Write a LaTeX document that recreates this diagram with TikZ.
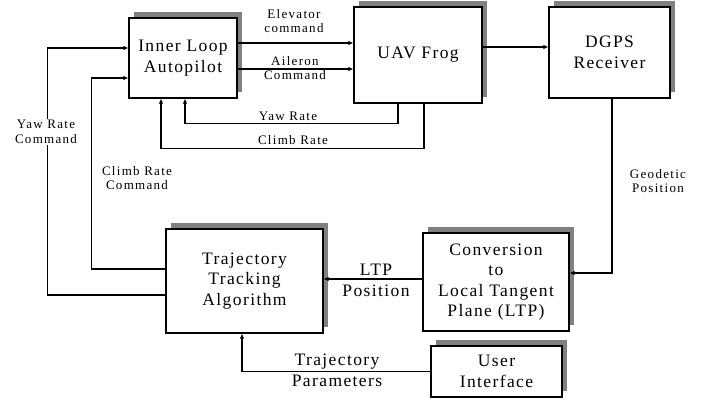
\documentclass[tikz,border=0pt]{standalone}
\usepackage{fontspec}
\setmainfont{Liberation Serif}
\newfontfamily\labfont[LetterSpace=10]{Liberation Serif}
\newfontfamily\boxfont[LetterSpace=8]{Liberation Serif}
\usetikzlibrary{shadows,arrows.meta}
\begin{document}
\begin{tikzpicture}[x=1pt,y=-1pt,
  blk/.style={draw=black,line width=1.1pt,fill=white,rectangle,align=center,
    inner sep=0pt,font=\boxfont\fontsize{17.5}{20.5}\selectfont,
    drop shadow={shadow xshift=5pt,shadow yshift=6pt,fill=gray,opacity=1}},
  conn/.style={line width=1.1pt},
  arr/.style={conn,-{Latex[length=5pt,width=4.5pt]}},
  small/.style={align=center,inner sep=1pt,font=\labfont\fontsize{13}{14.5}\selectfont},
  big/.style={align=center,inner sep=1pt,font=\boxfont\fontsize{17.5}{21}\selectfont}]
\useasboundingbox (0,0) rectangle (702,399);
\fill[white] (0,0) rectangle (702,399);
% blocks
\node[blk,minimum width=108pt,minimum height=80pt] (inner) at (183,58) {Inner Loop\\Autopilot};
\node[blk,minimum width=128pt,minimum height=96pt] (uav) at (418,55) {UAV Frog};
\node[blk,minimum width=121pt,minimum height=91pt] (dgps) at (609.5,52.5) {DGPS\\Receiver};
\node[blk,minimum width=157pt,minimum height=104pt] (traj) at (244.5,281) {Trajectory\\Tracking\\Algorithm};
\node[blk,minimum width=146pt,minimum height=98pt] (conv) at (496,282) {Conversion\\to\\Local Tangent\\Plane (LTP)};
\node[blk,minimum width=131pt,minimum height=51pt] (ui) at (496.5,371.5) {User\\Interface};
% connector end points
\coordinate (el) at ([yshift=15pt]inner.east);
\coordinate (ai) at ([yshift=-11pt]inner.east);
\coordinate (ud) at ([yshift=8pt]uav.east);
\coordinate (ya) at ([xshift=-20pt]uav.south);
\coordinate (yb) at ([xshift=2pt]inner.south);
\coordinate (ca) at ([xshift=6pt]uav.south);
\coordinate (cb) at ([xshift=-22pt]inner.south);
\coordinate (t1) at ([yshift=-14pt]traj.west);
\coordinate (i1) at ([yshift=10pt]inner.west);
\coordinate (t2) at ([yshift=12pt]traj.west);
\coordinate (i2) at ([yshift=-20pt]inner.west);
\coordinate (d1) at ([xshift=2.5pt]dgps.south);
\coordinate (c1) at ([yshift=9pt]conv.east);
\coordinate (c2) at ([yshift=3pt]conv.west);
\coordinate (tb) at ([xshift=-2.5pt]traj.south);
% connectors
\draw[arr] (el) -- (el -| uav.west);
\draw[arr] (ai) -- (ai -| uav.west);
\draw[arr] (ud) -- (ud -| dgps.west);
\draw[arr] (ya) -- ++(0,20) -| (yb);
\draw[arr] (ca) -- ++(0,45) -| (cb);
\draw[arr] (t1) -- ++(-118,0) |- (i1);
\draw[arr] (t2) -- ++(-74,0) |- (i2);
\draw[arr] (d1) |- (c1);
\draw[arr] (c2) -- (c2 -| traj.east);
\draw[arr] (ui.west) -| (tb);
% labels
\node[small] (lel) at (294,21) {Elevator\\command};
\node[small] (lai) at (295,68) {Aileron\\Command};
\node[small] (lyr) at (288,116) {Yaw Rate};
\node[small] (lcr) at (293,140) {Climb Rate};
\node[small,fill=white] (lyc) at (46,132) {Yaw Rate\\Command};
\node[small] (lcc) at (137,178) {Climb Rate\\Command};
\node[small] (lgp) at (658,181) {Geodetic\\Position};
\node[big] (lltp) at (376,280) {LTP\\Position};
\node[big] (ltp) at (337,370) {Trajectory\\Parameters};
\end{tikzpicture}
\end{document}
